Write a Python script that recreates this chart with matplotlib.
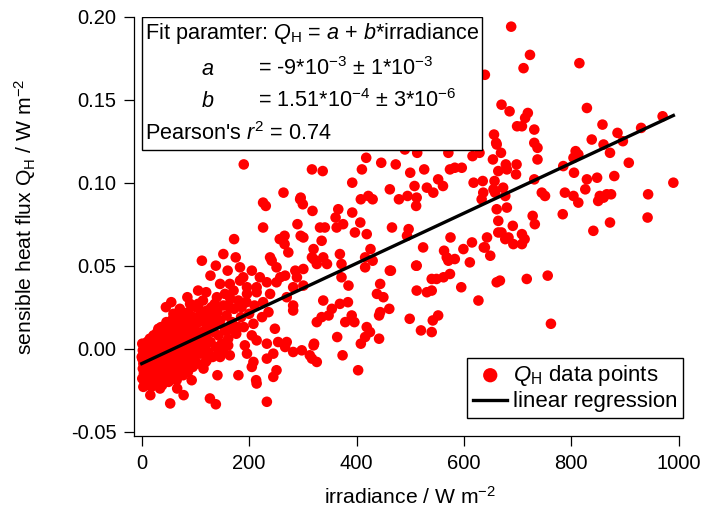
import numpy as np
import matplotlib
matplotlib.use("Agg")
import matplotlib.pyplot as plt
from matplotlib.patches import Rectangle

plt.rcParams["font.family"] = ["Liberation Sans", "DejaVu Sans"]
plt.rcParams["mathtext.fontset"] = "custom"
plt.rcParams["mathtext.rm"] = "Liberation Sans"
plt.rcParams["mathtext.it"] = "Liberation Sans:italic"
plt.rcParams["mathtext.bf"] = "Liberation Sans:bold"

# fit parameters shown in the box
fit_a = -9e-3
fit_b = 1.51e-4

# points: (irradiance W m-2, sensible heat flux W m-2)
points_upper = [
    (190, 0.111), (317, 0.108), (337, 0.107), (264, 0.094), (226, 0.088), (231, 0.086),
    (296, 0.091), (300, 0.087), (318, 0.083), (226, 0.073), (290, 0.075), (332, 0.073),
    (341, 0.073), (172, 0.066), (266, 0.068), (257, 0.066), (296, 0.068), (301, 0.067),
    (335, 0.065), (266, 0.063), (273, 0.058), (320, 0.060), (112, 0.053), (152, 0.057),
    (138, 0.050), (239, 0.055), (242, 0.053), (251, 0.049), (317, 0.055), (338, 0.055),
    (326, 0.051), (345, 0.051), (183, 0.049), (205, 0.047), (220, 0.043), (189, 0.043),
    (183, 0.041), (146, 0.039), (105, 0.035), (164, 0.039), (196, 0.037), (214, 0.037),
    (233, 0.040), (258, 0.043), (267, 0.044), (286, 0.047), (289, 0.043), (251, 0.040),
    (282, 0.037), (140, 0.031), (155, 0.033), (196, 0.033), (239, 0.033), (270, 0.031),
    (338, 0.029), (90, 0.027), (105, 0.027), (130, 0.025), (164, 0.025), (186, 0.025),
    (71, 0.024), (282, 0.026),
]

points_low = [
    (59, 0.021), (109, 0.023), (171, 0.035), (214, 0.034), (226, 0.028), (236, 0.022),
    (224, 0.019), (282, 0.023), (301, 0.038), (326, 0.016), (335, 0.019), (31, 0.012),
    (47, 0.011), (62, 0.010), (78, 0.015), (87, 0.012), (99, 0.015), (102, 0.009),
    (121, 0.013), (140, 0.015), (164, 0.012), (180, 0.013), (208, 0.015), (248, 0.012),
    (118, 0.004), (96, -0.001), (115, -0.001), (143, -0.001), (161, 0.002), (152, -0.002),
    (146, -0.005), (164, -0.004), (192, 0.002), (196, -0.003), (208, -0.008), (205, -0.011),
    (214, 0.005), (233, 0.003), (245, -0.003), (233, -0.006), (251, -0.013), (245, -0.017),
    (254, 0.004), (270, 0.004), (267, 0.001), (282, -0.002), (298, -0.001), (313, -0.004),
    (320, 0.002), (326, -0.008), (0, -0.005), (16, -0.028), (3, -0.023), (34, -0.024),
    (53, -0.033), (78, -0.028), (93, -0.019), (127, -0.030), (138, -0.0335), (141, -0.016),
    (180, -0.016), (213, -0.019), (214, -0.021), (233, -0.032), (65, -0.019), (40, -0.016),
    (68, -0.013), (115, -0.012), (121, -0.007),
]

points_mid = [
    (511, 0.140), (583, 0.152), (364, 0.127), (462, 0.130), (470, 0.129), (479, 0.126),
    (490, 0.120), (513, 0.118), (560, 0.132), (578, 0.132), (568, 0.122), (571, 0.118),
    (629, 0.118), (616, 0.116), (656, 0.129), (660, 0.124), (654, 0.114), (418, 0.115),
    (410, 0.108), (446, 0.112), (473, 0.111), (392, 0.100), (500, 0.106), (526, 0.108),
    (508, 0.098), (531, 0.097), (552, 0.102), (561, 0.098), (543, 0.094), (574, 0.108),
    (583, 0.109), (596, 0.109), (618, 0.100), (635, 0.101), (657, 0.101), (636, 0.094),
    (633, 0.090), (655, 0.096), (462, 0.096), (479, 0.090), (495, 0.092), (512, 0.091),
    (511, 0.086), (408, 0.090), (422, 0.092), (430, 0.090), (295, 0.090), (366, 0.084),
    (392, 0.082), (361, 0.079), (363, 0.073), (375, 0.075), (407, 0.076), (397, 0.070),
    (419, 0.069), (320, 0.054), (369, 0.057), (372, 0.051), (301, 0.048), (426, 0.060),
    (416, 0.055), (466, 0.073), (497, 0.072), (494, 0.068), (524, 0.061), (512, 0.050),
    (462, 0.047), (444, 0.039), (385, 0.038), (438, 0.033), (450, 0.031), (575, 0.067),
    (599, 0.060), (615, 0.064), (639, 0.061), (649, 0.056), (643, 0.067), (664, 0.070),
    (583, 0.054), (563, 0.059), (568, 0.055), (549, 0.042), (574, 0.045), (562, 0.043),
    (540, 0.042), (595, 0.037), (661, 0.040), (531, 0.034), (540, 0.035), (512, 0.035),
    (416, 0.049), (430, 0.053), (464, 0.047), (511, 0.050), (571, 0.053), (611, 0.052),
    (627, 0.029), (372, 0.043), (354, 0.024), (369, 0.027), (384, 0.028), (348, 0.020),
    (391, 0.020), (379, 0.016), (396, 0.016), (444, 0.022), (461, 0.024), (442, 0.020),
    (419, 0.013), (425, 0.010), (416, 0.007), (442, 0.006), (408, 0.003), (364, 0.007),
    (321, 0.003), (317, -0.006), (374, -0.004), (403, -0.013), (499, 0.018), (520, 0.011),
    (540, 0.010), (542, 0.017), (552, 0.020),
]

points_high = [
    (688, 0.194), (723, 0.177), (711, 0.169), (815, 0.172), (639, 0.165), (670, 0.147),
    (685, 0.143), (719, 0.142), (714, 0.139), (699, 0.134), (708, 0.134), (731, 0.132),
    (829, 0.145), (858, 0.135), (886, 0.130), (930, 0.133), (970, 0.140), (838, 0.126),
    (860, 0.123), (896, 0.125), (872, 0.118), (907, 0.112), (880, 0.104), (990, 0.100),
    (943, 0.093), (808, 0.119), (804, 0.115), (813, 0.117), (785, 0.110), (805, 0.106),
    (829, 0.102), (848, 0.103), (826, 0.096), (788, 0.094), (804, 0.092), (853, 0.092),
    (866, 0.093), (874, 0.093), (745, 0.094), (751, 0.092), (731, 0.102), (737, 0.114),
    (731, 0.124), (737, 0.121), (661, 0.123), (669, 0.118), (678, 0.111), (680, 0.108),
    (698, 0.111), (697, 0.105), (664, 0.107), (673, 0.097), (658, 0.094), (677, 0.092),
    (661, 0.084), (680, 0.085), (664, 0.077), (691, 0.074), (670, 0.070), (677, 0.066),
    (683, 0.067), (692, 0.063), (708, 0.063), (708, 0.069), (713, 0.066), (637, 0.061),
    (728, 0.080), (732, 0.075), (784, 0.081), (813, 0.088), (841, 0.071), (850, 0.089),
    (860, 0.091), (872, 0.076), (942, 0.079), (667, 0.041), (717, 0.042), (756, 0.044),
    (762, 0.015),
]

# the crowded corner near zero irradiance
points_dense = [
    (1, 0.003), (2, -0.001), (1, -0.006), (3, -0.009), (2, -0.012), (4, -0.015), (1, -0.018),
    (5, -0.020), (6, 0.001), (7, -0.004), (8, -0.011), (9, -0.016), (10, 0.004), (11, -0.007),
    (12, -0.013), (13, -0.002), (14, -0.019), (15, 0.006), (16, -0.009), (17, -0.015),
    (18, -0.023), (19, 0.000), (20, -0.005), (21, -0.011), (22, 0.008), (23, -0.017),
    (24, -0.002), (25, -0.021), (26, 0.003), (27, -0.008), (28, -0.014), (29, 0.010),
    (30, -0.004), (31, -0.019), (32, 0.005), (33, -0.010), (34, 0.000), (35, -0.015),
    (36, 0.013), (37, -0.006), (38, -0.022), (39, 0.007), (40, -0.012), (41, 0.002),
    (42, -0.002), (43, -0.017), (44, 0.010), (45, -0.008), (46, 0.016), (47, -0.013),
    (48, 0.004), (49, -0.004), (50, -0.020), (51, 0.008), (52, 0.000), (53, -0.010),
    (54, 0.013), (55, -0.015), (56, 0.003), (57, -0.006), (58, 0.018), (59, -0.011),
    (60, 0.007), (61, -0.001), (62, -0.017), (63, 0.011), (64, -0.007), (65, 0.003),
    (66, -0.024), (67, 0.015), (68, -0.003), (70, 0.008), (71, -0.012), (72, 0.020),
    (73, 0.001), (74, -0.008), (76, 0.012), (77, -0.016), (78, 0.005), (79, -0.004),
    (81, 0.017), (82, -0.010), (83, 0.009), (84, 0.001), (86, -0.014), (87, 0.022),
    (88, 0.004), (89, -0.006), (91, 0.014), (92, -0.001), (93, 0.008), (95, -0.011),
    (96, 0.019), (97, 0.003), (99, -0.005), (100, 0.011), (101, 0.025), (103, 0.000),
    (104, -0.009), (106, 0.016), (107, 0.006), (109, 0.020), (110, -0.003), (112, 0.010),
    (114, 0.029), (116, 0.002), (118, 0.018), (119, -0.008), (120, 0.007), (122, 0.023),
    (124, -0.002), (125, 0.014), (128, 0.004), (130, 0.019), (132, -0.005), (134, 0.010),
    (136, 0.027), (138, 0.001), (141, 0.022), (143, 0.008), (146, 0.017), (149, 0.003),
    (152, 0.026), (155, 0.011), (158, 0.020), (161, 0.006), (165, 0.030), (168, 0.016),
    (172, 0.024), (176, 0.009), (180, 0.029), (185, 0.019), (190, 0.013), (195, 0.028),
    (200, 0.021), (205, 0.008), (210, 0.026), (45, 0.025), (55, 0.028), (85, 0.031),
    (120, 0.034), (128, 0.044), (160, 0.047), (175, 0.055),
]

all_points = points_upper + points_low + points_mid + points_high + points_dense
irradiance = np.array([p[0] for p in all_points], dtype=float)
qh = np.array([p[1] for p in all_points])

x_ticks = [0, 200, 400, 600, 800, 1000]
y_ticks = [-0.05, 0.00, 0.05, 0.10, 0.15, 0.20]

fs_tick = 14.5
fs_label = 15.2
fs_box = 15.6
fs_leg = 16

fig = plt.figure(figsize=(7.04, 5.14), dpi=100)
ax = fig.add_axes([0.1908, 0.1518, 0.7733, 0.8157])

ax.scatter(irradiance, qh, s=58, color="#ff0000", edgecolors="none",
           label=r"$Q_\mathrm{H}$ data points", zorder=2)

fit_x = np.array([irradiance.min(), irradiance.max()])
ax.plot(fit_x, fit_a + fit_b * fit_x, color="black", lw=2.4,
        label="linear regression", zorder=3)

ax.set_xlim(-13.8, 1000)
ax.set_ylim(-0.0526, 0.20)
ax.set_xticks(x_ticks)
ax.set_yticks(y_ticks)
ax.set_yticklabels(["%.2f" % v for v in y_ticks])
ax.tick_params(direction="out", length=7.5, width=0.9, pad=5.5, labelsize=fs_tick)
for side in ["top", "right"]:
    ax.spines[side].set_visible(False)
for side in ["left", "bottom"]:
    ax.spines[side].set_linewidth(0.9)

ax.set_xlabel(r"irradiance / W m$^{-2}$", fontsize=fs_label)
ax.set_ylabel(r"sensible heat flux Q$_\mathrm{H}$ / W m$^{-2}$", fontsize=fs_label)
ax.xaxis.set_label_coords(0.506, -0.118)
ax.yaxis.set_label_coords(-0.177, 0.522)

# box with the fit parameters
box = Rectangle((0.0136, 0.682), 0.6251, 0.318, transform=ax.transAxes,
                facecolor="white", edgecolor="black", lw=1.0, zorder=4)
ax.add_patch(box)
ax.text(0.0197, 0.946, r"Fit paramter: $Q_\mathrm{H}$ = $a$ + $b$*irradiance",
        transform=ax.transAxes, fontsize=fs_box, va="baseline", zorder=5)
ax.text(0.122, 0.861, r"$a$", transform=ax.transAxes, fontsize=fs_box, va="baseline", zorder=5)
ax.text(0.2267, 0.861, r"= -9*10$^{-3}$ ± 1*10$^{-3}$", transform=ax.transAxes,
        fontsize=fs_box, va="baseline", zorder=5)
ax.text(0.122, 0.784, r"$b$", transform=ax.transAxes, fontsize=fs_box, va="baseline", zorder=5)
ax.text(0.2267, 0.784, r"= 1.51*10$^{-4}$ ± 3*10$^{-6}$", transform=ax.transAxes,
        fontsize=fs_box, va="baseline", zorder=5)
ax.text(0.0197, 0.706, r"Pearson's $r^2$ = 0.74", transform=ax.transAxes,
        fontsize=fs_box, va="baseline", zorder=5)

leg = ax.legend(loc="lower right", bbox_to_anchor=(1.008, 0.043), fontsize=fs_leg,
                frameon=True, fancybox=False, edgecolor="black", framealpha=1,
                markerscale=1.35, handlelength=1.55, handletextpad=0.25,
                borderpad=0.25, labelspacing=0.15, borderaxespad=0)
leg.get_frame().set_linewidth(1.0)
leg.set_zorder(6)

fig.savefig("out.png", dpi=100)
